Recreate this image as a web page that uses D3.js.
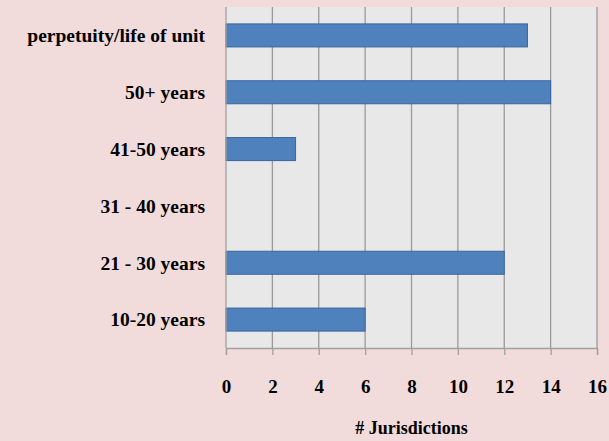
<!DOCTYPE html>
<html>
<head>
<meta charset="utf-8">
<script src="https://cdn.jsdelivr.net/npm/d3@7"></script>
<style>
  body { margin: 0; background: #f2dcdb; }
  text { font-family: "Liberation Serif", serif; font-weight: bold; fill: #000; }
</style>
</head>
<body>
<div id="chart"></div>
<script>
const categories = ["perpetuity/life of unit", "50+ years", "41-50 years", "31 - 40 years", "21 - 30 years", "10-20 years"];
const values = [13, 14, 3, 0, 12, 6];
const xTicks = [0, 2, 4, 6, 8, 10, 12, 14, 16];

const margin = { top: 7, right: 12, bottom: 93, left: 226 };
const W = 609, H = 441;
const width = W - margin.left - margin.right;
const height = H - margin.top - margin.bottom;

const svg = d3.select("#chart").append("svg")
    .attr("width", W)
    .attr("height", H);

svg.append("rect").attr("width", W).attr("height", H).attr("fill", "#f2dcdb");

const g = svg.append("g")
    .attr("transform", `translate(${margin.left}, ${margin.top})`);

const x = d3.scaleLinear().domain([0, 16]).range([0, width]);
const y = d3.scaleBand().domain(categories).range([0, height]).paddingInner(0.595).paddingOuter(0.2975);

g.append("rect")
    .attr("width", width)
    .attr("height", height)
    .attr("fill", "#e8e8e8");

// gridlines
g.selectAll(".grid")
    .data(xTicks.slice(1))
    .enter().append("line")
    .attr("x1", d => x(d)).attr("x2", d => x(d))
    .attr("y1", 0).attr("y2", height)
    .attr("stroke", "#9a9a9a")
    .attr("stroke-width", 1.3);

g.selectAll(".bar")
    .data(values)
    .enter().append("rect")
    .attr("x", 0)
    .attr("y", (d, i) => y(categories[i]))
    .attr("width", d => x(d))
    .attr("height", y.bandwidth())
    .attr("fill", d => d > 0 ? "#4f81bd" : "none")
    .attr("stroke", d => d > 0 ? "#3a65a0" : "none")
    .attr("stroke-width", 1);

// y axis line
g.append("line")
    .attr("x1", 0).attr("x2", 0)
    .attr("y1", 0).attr("y2", height)
    .attr("stroke", "#a0a0a0").attr("stroke-width", 1.3);

const xAxis = g.append("g")
    .attr("transform", `translate(0, ${height})`)
    .call(d3.axisBottom(x).tickValues(xTicks).tickSize(7).tickPadding(25));
xAxis.select(".domain").attr("stroke", "#a0a0a0").attr("stroke-width", 1.3);
xAxis.selectAll(".tick line").attr("stroke", "#a0a0a0").attr("stroke-width", 1.3);
xAxis.selectAll("text")
    .style("font-family", "Liberation Serif, serif")
    .style("font-weight", "bold")
    .style("font-size", "19px");

g.selectAll(".ylab")
    .data(categories)
    .enter().append("text")
    .attr("x", -21)
    .attr("y", d => y(d) + y.bandwidth() / 2)
    .attr("dy", "0.35em")
    .attr("text-anchor", "end")
    .style("font-size", "19.5px")
    .text(d => d);

svg.append("text")
    .attr("x", margin.left + width / 2)
    .attr("y", 434)
    .attr("text-anchor", "middle")
    .style("font-size", "18px")
    .text("# Jurisdictions");
</script>
</body>
</html>
